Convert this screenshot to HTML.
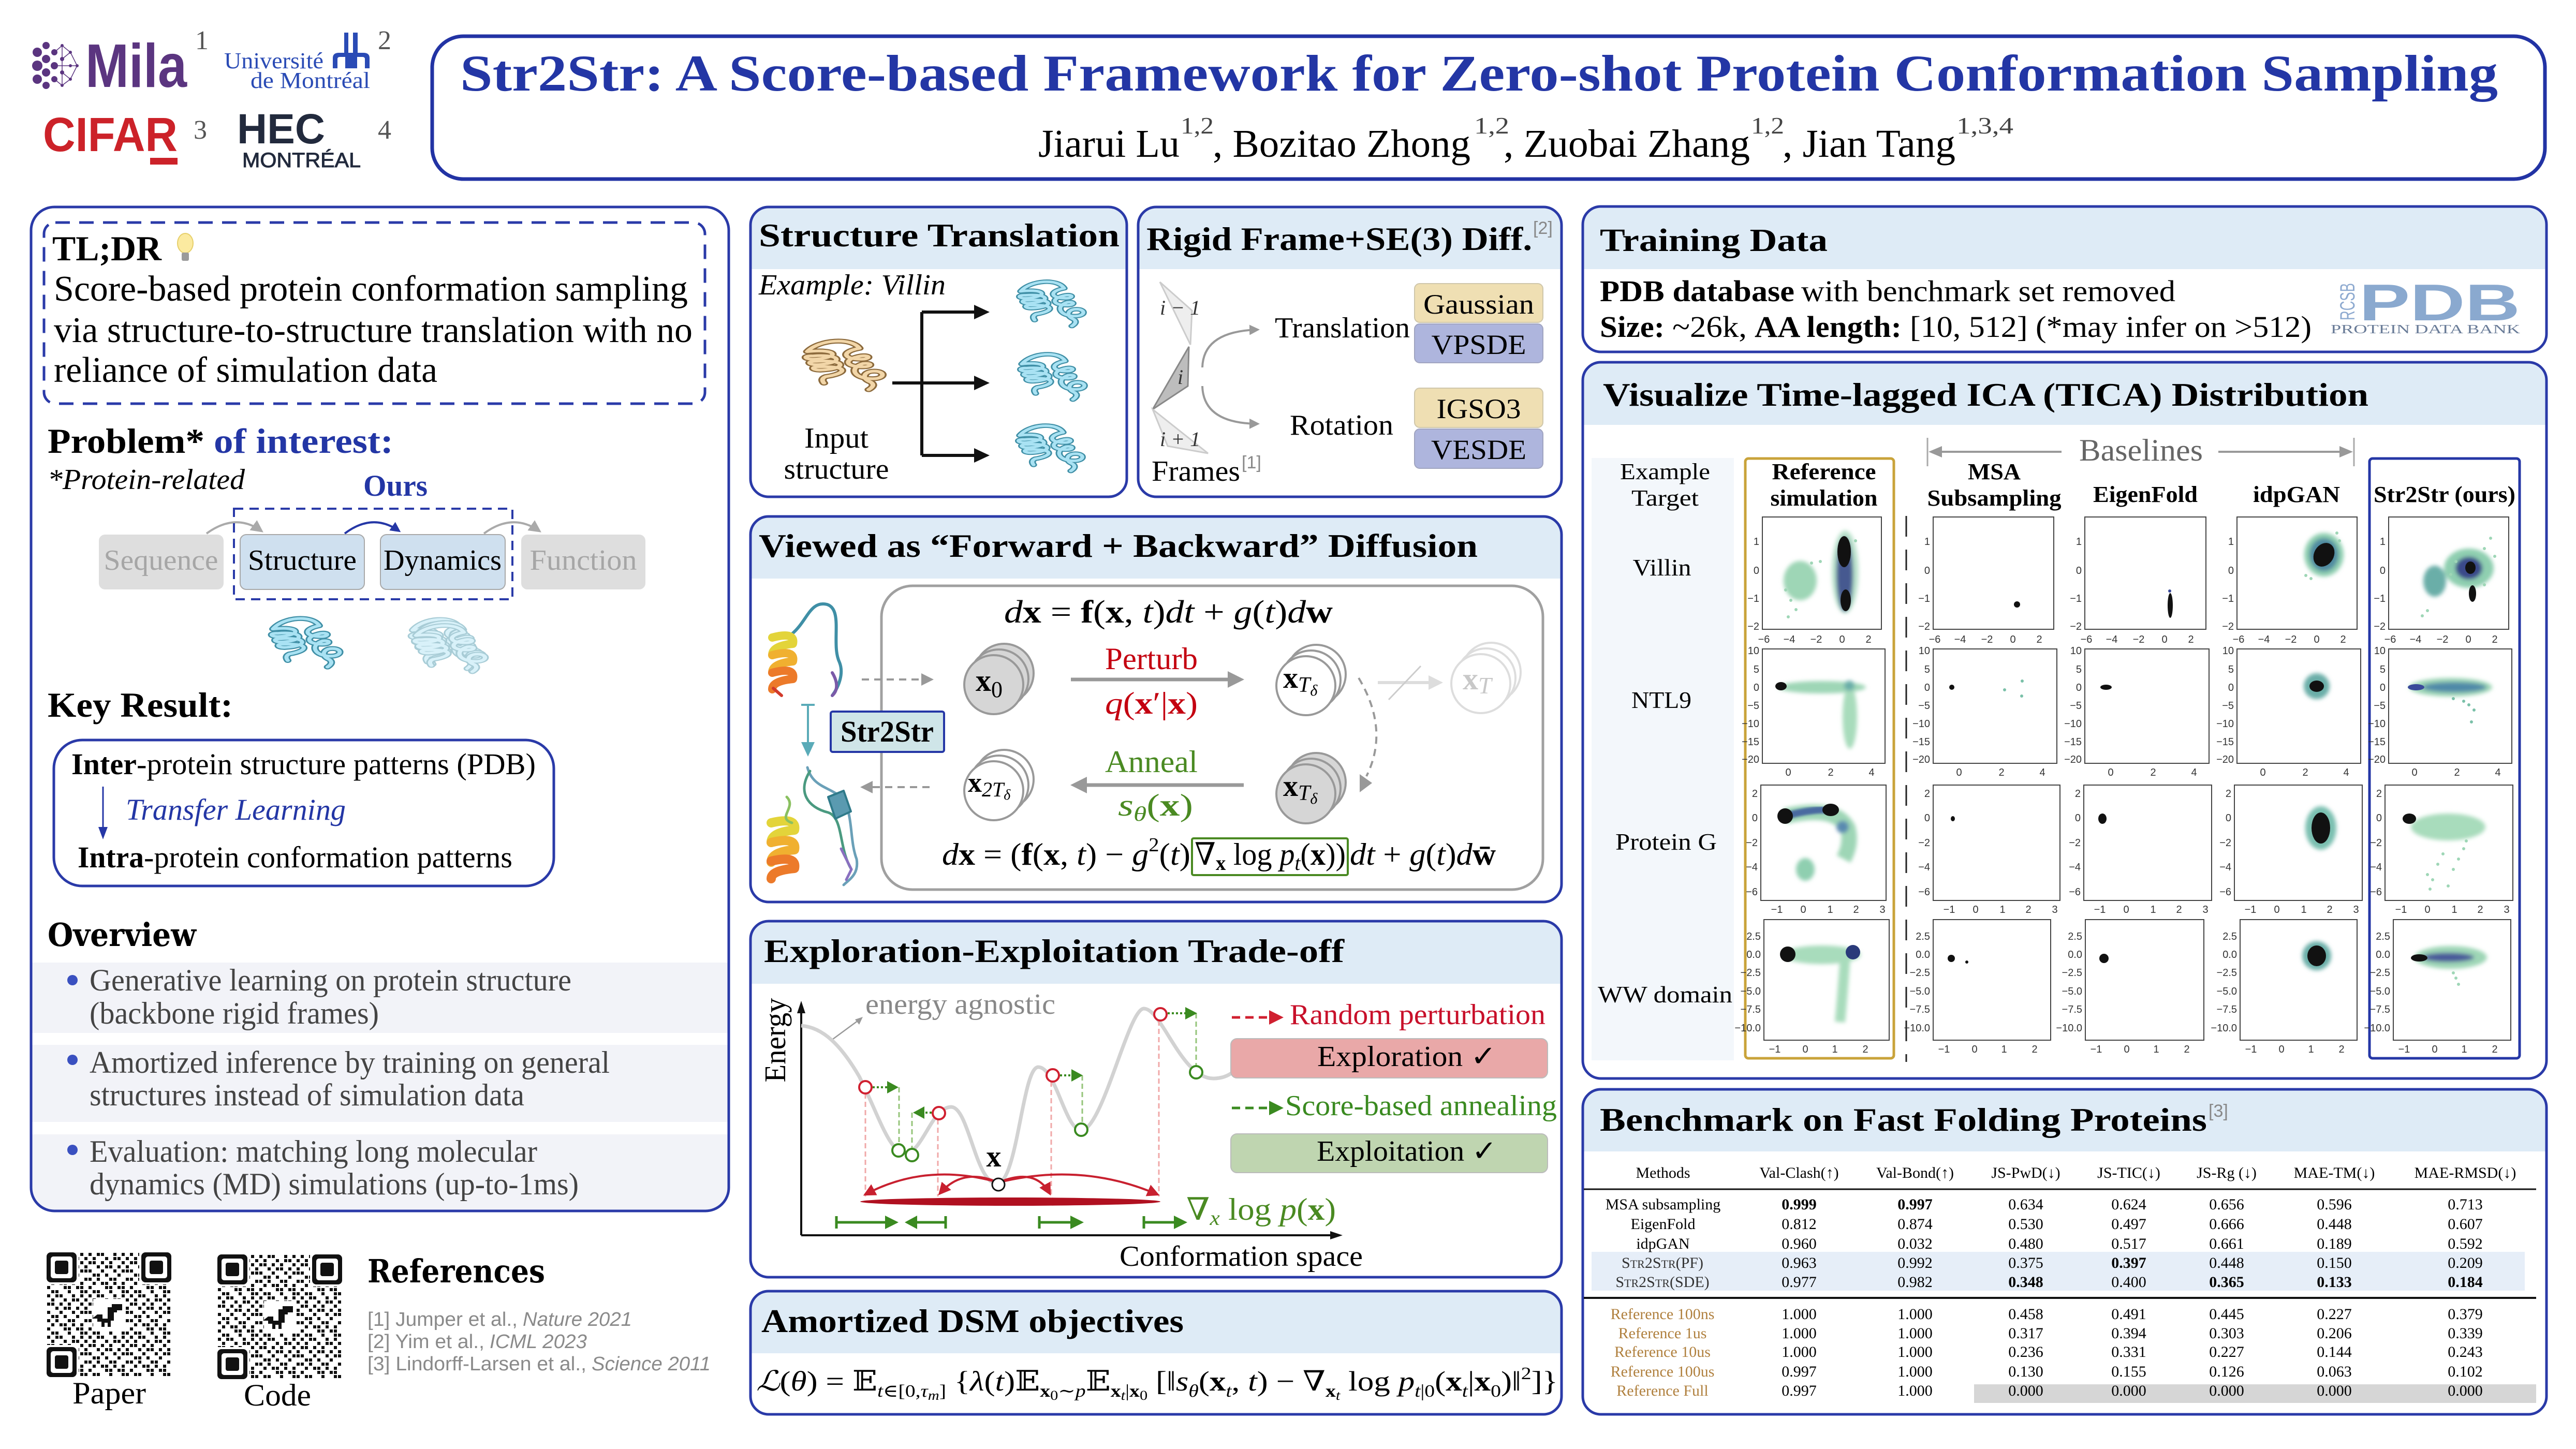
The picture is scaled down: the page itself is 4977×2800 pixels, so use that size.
<!DOCTYPE html>
<html><head><meta charset="utf-8">
<style>
html,body{margin:0;padding:0;background:#fff;}
svg{display:block;}
.t{font-family:"Liberation Serif","DejaVu Serif",serif;}
.sa{font-family:"Liberation Sans","DejaVu Sans",sans-serif;}
.b{font-weight:bold;}
.it{font-style:italic;}
</style></head>
<body>
<svg xmlns="http://www.w3.org/2000/svg" width="4977" height="2800" viewBox="0 0 4977 2800" class="t" font-family="Liberation Serif, DejaVu Serif, serif">
<defs>
  <marker id="mg" viewBox="0 0 10 10" refX="8" refY="5" markerWidth="5" markerHeight="5" orient="auto"><path d="M0,0 L10,5 L0,10z" fill="#999"/></marker>
  <marker id="mgl" viewBox="0 0 10 10" refX="8" refY="5" markerWidth="6" markerHeight="6" orient="auto"><path d="M0,0 L10,5 L0,10z" fill="#aaa"/></marker>
  <marker id="mb" viewBox="0 0 10 10" refX="8" refY="5" markerWidth="5" markerHeight="5" orient="auto"><path d="M0,0 L10,5 L0,10z" fill="#2537a6"/></marker>
  <marker id="mr" viewBox="0 0 10 10" refX="8" refY="5" markerWidth="6" markerHeight="6" orient="auto"><path d="M0,0 L10,5 L0,10z" fill="#c8202f"/></marker>
  <filter id="bl" x="-50%" y="-50%" width="200%" height="200%"><feGaussianBlur stdDeviation="4"/></filter>
  <filter id="bl2" x="-50%" y="-50%" width="200%" height="200%"><feGaussianBlur stdDeviation="2"/></filter>
  <pattern id="qr1" patternUnits="userSpaceOnUse" x="90" y="2420" width="80" height="80">
    <path fill="#111" d="M1,1h6v6h-6z M17,1h6v6h-6z M25,1h6v6h-6z M49,1h6v6h-6z M65,1h6v6h-6z M9,9h6v6h-6z M33,9h6v6h-6z M49,9h6v6h-6z M57,9h6v6h-6z M73,9h6v6h-6z M1,17h6v6h-6z M9,17h6v6h-6z M25,17h6v6h-6z M41,17h6v6h-6z M65,17h6v6h-6z M17,25h6v6h-6z M33,25h6v6h-6z M41,25h6v6h-6z M57,25h6v6h-6z M73,25h6v6h-6z M1,33h6v6h-6z M25,33h6v6h-6z M49,33h6v6h-6z M65,33h6v6h-6z M73,33h6v6h-6z M9,41h6v6h-6z M17,41h6v6h-6z M33,41h6v6h-6z M57,41h6v6h-6z M1,49h6v6h-6z M17,49h6v6h-6z M41,49h6v6h-6z M49,49h6v6h-6z M73,49h6v6h-6z M9,57h6v6h-6z M25,57h6v6h-6z M33,57h6v6h-6z M49,57h6v6h-6z M65,57h6v6h-6z M1,65h6v6h-6z M33,65h6v6h-6z M41,65h6v6h-6z M57,65h6v6h-6z M65,65h6v6h-6z M9,73h6v6h-6z M17,73h6v6h-6z M41,73h6v6h-6z M65,73h6v6h-6z M73,73h6v6h-6z"/>
  </pattern>
  <pattern id="qr2" patternUnits="userSpaceOnUse" x="420" y="2424" width="80" height="80">
    <path fill="#111" d="M1,1h6v6h-6z M17,1h6v6h-6z M25,1h6v6h-6z M49,1h6v6h-6z M65,1h6v6h-6z M9,9h6v6h-6z M33,9h6v6h-6z M49,9h6v6h-6z M57,9h6v6h-6z M73,9h6v6h-6z M1,17h6v6h-6z M9,17h6v6h-6z M25,17h6v6h-6z M41,17h6v6h-6z M65,17h6v6h-6z M17,25h6v6h-6z M33,25h6v6h-6z M41,25h6v6h-6z M57,25h6v6h-6z M73,25h6v6h-6z M1,33h6v6h-6z M25,33h6v6h-6z M49,33h6v6h-6z M65,33h6v6h-6z M73,33h6v6h-6z M9,41h6v6h-6z M17,41h6v6h-6z M33,41h6v6h-6z M57,41h6v6h-6z M1,49h6v6h-6z M17,49h6v6h-6z M41,49h6v6h-6z M49,49h6v6h-6z M73,49h6v6h-6z M9,57h6v6h-6z M25,57h6v6h-6z M33,57h6v6h-6z M49,57h6v6h-6z M65,57h6v6h-6z M1,65h6v6h-6z M33,65h6v6h-6z M41,65h6v6h-6z M57,65h6v6h-6z M65,65h6v6h-6z M9,73h6v6h-6z M17,73h6v6h-6z M41,73h6v6h-6z M65,73h6v6h-6z M73,73h6v6h-6z"/>
  </pattern>
  <path id="protPath" d="M12,28 C25,5 60,2 68,22 M12,28 c34,-6 36,12 6,14 c-10,0 -10,-7 0,-6 c32,-4 34,14 4,16 c-10,0 -10,-7 0,-6 c32,-4 34,14 4,16 c-10,0 -10,-7 0,-6 c30,-2 30,12 6,18 q-6,4 -2,12 M68,22 c-20,6 -18,20 2,20 c10,0 10,-8 0,-6 c-20,6 -18,20 2,20 c10,0 10,-8 0,-6 c-16,8 -10,28 10,28 c14,0 14,-14 2,-14 c-12,0 -14,14 -4,20 q6,6 -2,14"/>
  <g id="protC">
    <use href="#protPath" fill="none" stroke="#3f8fa6" stroke-width="9" stroke-linecap="round" stroke-linejoin="round"/>
    <use href="#protPath" fill="none" stroke="#a9e2f3" stroke-width="5" stroke-linecap="round" stroke-linejoin="round"/>
  </g>
  <g id="protT">
    <use href="#protPath" fill="none" stroke="#8c6a3c" stroke-width="9" stroke-linecap="round" stroke-linejoin="round"/>
    <use href="#protPath" fill="none" stroke="#f2d6a8" stroke-width="5" stroke-linecap="round" stroke-linejoin="round"/>
  </g>
</defs>

<rect width="4977" height="2800" fill="#fff"/>

<!-- ============ HEADER LOGOS ============ -->
<g fill="#5b3580">
  <circle cx="72" cy="101" r="9"/><circle cx="72" cy="127" r="10"/><circle cx="72" cy="153" r="9"/>
  <circle cx="89" cy="88" r="7"/><circle cx="89" cy="114" r="8"/><circle cx="89" cy="140" r="8"/><circle cx="89" cy="165" r="7"/>
  <circle cx="105" cy="101" r="6"/><circle cx="105" cy="127" r="7"/><circle cx="105" cy="153" r="6"/>
  <circle cx="120" cy="88" r="3"/><circle cx="120" cy="114" r="4"/><circle cx="120" cy="140" r="4"/><circle cx="120" cy="165" r="3"/>
  <circle cx="136" cy="101" r="3"/><circle cx="136" cy="153" r="3"/><circle cx="149" cy="127" r="3"/><circle cx="136" cy="127" r="3"/>
</g>
<g stroke="#5b3580" stroke-width="1.5" fill="none">
  <path d="M105,101 L120,88 L136,101 L149,127 L136,153 L120,165 L105,153 M120,114 L136,101 M120,140 L136,153 M105,127 H149 M120,114 L120,140 M120,88 L120,114 M120,140 L120,165"/>
</g>
<text class="sa b" x="165" y="168" font-size="119" fill="#5b3580" textLength="196" lengthAdjust="spacingAndGlyphs">Mila</text>
<text x="377" y="95" font-size="52" fill="#555">1</text>
<text x="433" y="132" font-size="44" fill="#2a4bb5" textLength="192" lengthAdjust="spacingAndGlyphs">Université</text>
<text x="484" y="170" font-size="44" fill="#2a4bb5" textLength="231" lengthAdjust="spacingAndGlyphs">de Montréal</text>
<g fill="#2a4bb5">
  <rect x="665" y="63" width="8" height="42"/><rect x="682" y="63" width="9" height="42"/>
  <path d="M643,132 V112 Q643,102 655,102 H702 Q714,102 714,112 V132 H705 V114 Q705,110 700,110 H690 V132 H667 V110 H657 Q652,110 652,114 V132 Z"/>
</g>
<text x="730" y="95" font-size="52" fill="#555">2</text>
<text class="sa b" x="83" y="292" font-size="93" fill="#cc2229" textLength="260" lengthAdjust="spacingAndGlyphs">CIFAR</text>
<rect x="290" y="305" width="53" height="13" fill="#cc2229"/>
<text x="374" y="268" font-size="52" fill="#555">3</text>
<text class="sa b" x="458" y="277" font-size="82" fill="#222a3d" textLength="170" lengthAdjust="spacingAndGlyphs">HEC</text>
<text class="sa" x="468" y="323" font-size="40" fill="#222a3d" textLength="229" lengthAdjust="spacingAndGlyphs" stroke="#222a3d" stroke-width="1">MONTRÉAL</text>
<text x="730" y="268" font-size="52" fill="#555">4</text>

<!-- ============ HEADER BOX ============ -->
<rect x="835" y="70" width="4082" height="276" rx="60" fill="#fff" stroke="#2233a4" stroke-width="7"/>
<text class="b" x="889" y="175" font-size="100" fill="#2336a5" textLength="3937" lengthAdjust="spacingAndGlyphs">Str2Str: A Score-based Framework for Zero-shot Protein Conformation Sampling</text>
<text x="2006" y="303" font-size="76" textLength="273" lengthAdjust="spacingAndGlyphs">Jiarui Lu</text>
<text x="2281" y="258" font-size="46" fill="#444" textLength="64" lengthAdjust="spacingAndGlyphs">1,2</text>
<text x="2343" y="303" font-size="76" textLength="498" lengthAdjust="spacingAndGlyphs">, Bozitao Zhong</text>
<text x="2848" y="258" font-size="46" fill="#444" textLength="68" lengthAdjust="spacingAndGlyphs">1,2</text>
<text x="2905" y="303" font-size="76" textLength="476" lengthAdjust="spacingAndGlyphs">, Zuobai Zhang</text>
<text x="3383" y="258" font-size="46" fill="#444" textLength="64" lengthAdjust="spacingAndGlyphs">1,2</text>
<text x="3444" y="303" font-size="76" textLength="334" lengthAdjust="spacingAndGlyphs">, Jian Tang</text>
<text x="3780" y="258" font-size="46" fill="#444" textLength="110" lengthAdjust="spacingAndGlyphs">1,3,4</text>

<!-- ============ LEFT PANEL ============ -->
<rect x="60" y="400" width="1348" height="1940" rx="45" fill="#fff"/>
<rect x="62" y="1860" width="1344" height="136" fill="#f2f3f8"/>
<rect x="62" y="2019" width="1344" height="149" fill="#f2f3f8"/>
<path d="M62,2192 H1406 V2295 Q1406,2338 1363,2338 H105 Q62,2338 62,2295 Z" fill="#f2f3f8"/>
<rect x="60" y="400" width="1348" height="1940" rx="45" fill="none" stroke="#2a3aa8" stroke-width="5"/>

<rect x="85" y="430" width="1277" height="350" rx="22" fill="none" stroke="#2a3aa8" stroke-width="5" stroke-dasharray="28 18"/>
<text class="b" x="101" y="503" font-size="68" textLength="211" lengthAdjust="spacingAndGlyphs">TL;DR</text>
<ellipse cx="358" cy="470" rx="15" ry="19" fill="#fbeaa0" stroke="#e6cf6a" stroke-width="2"/>
<rect x="351" y="488" width="14" height="16" rx="3" fill="#9a9a9a"/>
<text x="104" y="581" font-size="70" textLength="1225" lengthAdjust="spacingAndGlyphs">Score-based protein conformation sampling</text>
<text x="104" y="661" font-size="70" textLength="1234" lengthAdjust="spacingAndGlyphs">via structure-to-structure translation with no</text>
<text x="104" y="738" font-size="70" textLength="741" lengthAdjust="spacingAndGlyphs">reliance of simulation data</text>

<text class="b" x="92" y="875" font-size="68" textLength="303" lengthAdjust="spacingAndGlyphs">Problem*</text>
<text class="b" x="413" y="875" font-size="68" fill="#2336a5" textLength="347" lengthAdjust="spacingAndGlyphs">of interest:</text>
<text class="it" x="92" y="945" font-size="56" textLength="381" lengthAdjust="spacingAndGlyphs">*Protein-related</text>
<text class="b" x="702" y="958" font-size="58" fill="#2336a5" textLength="124" lengthAdjust="spacingAndGlyphs">Ours</text>

<path d="M399,1031 Q455,990 505,1026" fill="none" stroke="#aaa" stroke-width="4" marker-end="url(#mgl)"/>
<path d="M666,1031 Q720,990 771,1026" fill="none" stroke="#2537a6" stroke-width="4" marker-end="url(#mb)"/>
<path d="M935,1031 Q990,990 1042,1026" fill="none" stroke="#aaa" stroke-width="4" marker-end="url(#mgl)"/>
<rect x="191" y="1033" width="241" height="106" rx="12" fill="#dedede"/>
<rect x="464" y="1033" width="240" height="106" rx="12" fill="#cfe0ef" stroke="#a8a8a8" stroke-width="2"/>
<rect x="735" y="1033" width="241" height="106" rx="12" fill="#cfe0ef" stroke="#a8a8a8" stroke-width="2"/>
<rect x="1007" y="1033" width="240" height="106" rx="12" fill="#dedede"/>
<rect x="452" y="983" width="538" height="175" fill="none" stroke="#2a3aa8" stroke-width="4" stroke-dasharray="18 12"/>
<text x="311" y="1101" font-size="56" fill="#a6a6a6" text-anchor="middle" textLength="221" lengthAdjust="spacingAndGlyphs">Sequence</text>
<text x="584" y="1101" font-size="56" text-anchor="middle" textLength="210" lengthAdjust="spacingAndGlyphs">Structure</text>
<text x="855" y="1101" font-size="56" text-anchor="middle" textLength="228" lengthAdjust="spacingAndGlyphs">Dynamics</text>
<text x="1127" y="1101" font-size="56" fill="#a6a6a6" text-anchor="middle" textLength="207" lengthAdjust="spacingAndGlyphs">Function</text>

<use href="#protC" transform="translate(508,1186) scale(1.6,1.05)"/>
<g opacity="0.45">
  <use href="#protC" transform="translate(778,1188) scale(1.6,1.06)"/>
  <use href="#protC" transform="translate(790,1194) scale(1.55,1.04)"/>
  <use href="#protC" transform="translate(784,1200) scale(1.65,1.0)"/>
</g>

<text class="b" x="92" y="1385" font-size="68" textLength="358" lengthAdjust="spacingAndGlyphs">Key Result:</text>
<rect x="104" y="1430" width="966" height="282" rx="55" fill="none" stroke="#2a3aa8" stroke-width="5"/>
<text class="b" x="138" y="1496" font-size="58" textLength="126" lengthAdjust="spacingAndGlyphs">Inter</text>
<text x="264" y="1496" font-size="58" textLength="771" lengthAdjust="spacingAndGlyphs">-protein structure patterns (PDB)</text>
<line x1="199" y1="1520" x2="199" y2="1600" stroke="#2537a6" stroke-width="3"/>
<path d="M199,1622 L190,1598 L208,1598 Z" fill="#2537a6"/>
<text class="it" x="243" y="1584" font-size="58" fill="#2336a5" textLength="425" lengthAdjust="spacingAndGlyphs">Transfer Learning</text>
<text class="b" x="150" y="1676" font-size="58" textLength="128" lengthAdjust="spacingAndGlyphs">Intra</text>
<text x="278" y="1676" font-size="58" textLength="712" lengthAdjust="spacingAndGlyphs">-protein conformation patterns</text>

<text class="b" x="92" y="1828" font-size="62" textLength="287" lengthAdjust="spacingAndGlyphs" font-family="DejaVu Serif, serif">Overview</text>
<circle cx="140" cy="1894" r="10" fill="#3a50c0"/>
<circle cx="140" cy="2048" r="10" fill="#3a50c0"/>
<circle cx="140" cy="2222" r="10" fill="#3a50c0"/>
<g fill="#444" font-size="60">
<text x="173" y="1914" textLength="931" lengthAdjust="spacingAndGlyphs">Generative learning on protein structure</text>
<text x="173" y="1978" textLength="559" lengthAdjust="spacingAndGlyphs">(backbone rigid frames)</text>
<text x="173" y="2073" textLength="1005" lengthAdjust="spacingAndGlyphs">Amortized inference by training on general</text>
<text x="173" y="2136" textLength="840" lengthAdjust="spacingAndGlyphs">structures instead of simulation data</text>
<text x="173" y="2245" textLength="865" lengthAdjust="spacingAndGlyphs">Evaluation: matching long molecular</text>
<text x="173" y="2308" textLength="945" lengthAdjust="spacingAndGlyphs">dynamics (MD) simulations (up-to-1ms)</text>
</g>

<!-- QR codes -->
<rect x="90" y="2420" width="241" height="241" fill="url(#qr1)"/>
<g>
  <rect x="86" y="2416" width="66" height="66" fill="#fff"/><rect x="90" y="2420" width="58" height="58" rx="8" fill="#111"/><rect x="98" y="2428" width="42" height="42" rx="5" fill="#fff"/><rect x="106" y="2436" width="26" height="26" rx="4" fill="#111"/>
  <rect x="269" y="2416" width="66" height="66" fill="#fff"/><rect x="273" y="2420" width="58" height="58" rx="8" fill="#111"/><rect x="281" y="2428" width="42" height="42" rx="5" fill="#fff"/><rect x="289" y="2436" width="26" height="26" rx="4" fill="#111"/>
  <rect x="86" y="2599" width="66" height="66" fill="#fff"/><rect x="90" y="2603" width="58" height="58" rx="8" fill="#111"/><rect x="98" y="2611" width="42" height="42" rx="5" fill="#fff"/><rect x="106" y="2619" width="26" height="26" rx="4" fill="#111"/>
  <rect x="180" y="2510" width="62" height="62" fill="#fff"/>
  <path d="M188,2540 h10 v8 h10 v-22 h8 v-6 h20 v12 h-10 v4 h-6 v16 h-6 v12 h-6 v-8 h-6 v8 h-6 v-10 h-8 v-6 h-10 z" fill="#111"/>
</g>
<rect x="420" y="2424" width="241" height="241" fill="url(#qr2)"/>
<g>
  <rect x="416" y="2420" width="66" height="66" fill="#fff"/><rect x="420" y="2424" width="58" height="58" rx="8" fill="#111"/><rect x="428" y="2432" width="42" height="42" rx="5" fill="#fff"/><rect x="436" y="2440" width="26" height="26" rx="4" fill="#111"/>
  <rect x="599" y="2420" width="66" height="66" fill="#fff"/><rect x="603" y="2424" width="58" height="58" rx="8" fill="#111"/><rect x="611" y="2432" width="42" height="42" rx="5" fill="#fff"/><rect x="619" y="2440" width="26" height="26" rx="4" fill="#111"/>
  <rect x="416" y="2603" width="66" height="66" fill="#fff"/><rect x="420" y="2607" width="58" height="58" rx="8" fill="#111"/><rect x="428" y="2615" width="42" height="42" rx="5" fill="#fff"/><rect x="436" y="2623" width="26" height="26" rx="4" fill="#111"/>
  <rect x="510" y="2514" width="62" height="62" fill="#fff"/>
  <path d="M518,2544 h10 v8 h10 v-22 h8 v-6 h20 v12 h-10 v4 h-6 v16 h-6 v12 h-6 v-8 h-6 v8 h-6 v-10 h-8 v-6 h-10 z" fill="#111"/>
</g>
<text x="140" y="2712" font-size="60" textLength="142" lengthAdjust="spacingAndGlyphs">Paper</text>
<text x="471" y="2716" font-size="60" textLength="130" lengthAdjust="spacingAndGlyphs">Code</text>
<text class="b" x="710" y="2478" font-size="62" textLength="343" lengthAdjust="spacingAndGlyphs" font-family="DejaVu Serif, serif">References</text>
<g class="sa" font-size="38" fill="#8a8a8a">
<text x="710" y="2562" textLength="290" lengthAdjust="spacingAndGlyphs">[1] Jumper et al.,</text>
<text class="it" x="1010" y="2562" textLength="211" lengthAdjust="spacingAndGlyphs">Nature 2021</text>
<text x="710" y="2605" textLength="226" lengthAdjust="spacingAndGlyphs">[2] Yim et al.,</text>
<text class="it" x="946" y="2605" textLength="188" lengthAdjust="spacingAndGlyphs">ICML 2023</text>
<text x="710" y="2648" textLength="423" lengthAdjust="spacingAndGlyphs">[3] Lindorff-Larsen et al.,</text>
<text class="it" x="1143" y="2648" textLength="230" lengthAdjust="spacingAndGlyphs">Science 2011</text>
</g>

<!-- ============ MIDDLE PANELS ============ -->
<!-- Structure translation -->
<rect x="1450" y="400" width="727" height="560" rx="35" fill="#fff"/>
<path d="M1450,520 V435 Q1450,400 1485,400 H2142 Q2177,400 2177,435 V520 Z" fill="#deebf6"/>
<rect x="1450" y="400" width="727" height="560" rx="35" fill="none" stroke="#2a3aa8" stroke-width="5"/>
<text class="b" x="1466" y="476" font-size="64" textLength="697" lengthAdjust="spacingAndGlyphs">Structure Translation</text>
<text class="it" x="1466" y="569" font-size="56" textLength="361" lengthAdjust="spacingAndGlyphs">Example: Villin</text>
<use href="#protT" transform="translate(1538,650) scale(1.8,1.05)"/>
<text x="1616" y="865" font-size="56" text-anchor="middle" textLength="124" lengthAdjust="spacingAndGlyphs">Input</text>
<text x="1616" y="925" font-size="56" text-anchor="middle" textLength="203" lengthAdjust="spacingAndGlyphs">structure</text>
<g stroke="#111" stroke-width="6" fill="none">
  <path d="M1724,740 H1886 M1781,603 V880 M1781,603 H1886 M1781,880 H1886"/>
</g>
<g fill="#111">
  <path d="M1912,603 L1882,589 L1882,617 Z"/><path d="M1912,740 L1882,726 L1882,754 Z"/><path d="M1912,880 L1882,866 L1882,894 Z"/>
</g>
<use href="#protC" transform="translate(1954,536) scale(1.5,0.96)"/>
<use href="#protC" transform="translate(1956,676) scale(1.5,0.98)"/>
<use href="#protC" transform="translate(1952,814) scale(1.5,0.98)"/>

<!-- Rigid frame -->
<rect x="2199" y="400" width="818" height="560" rx="35" fill="#fff"/>
<path d="M2199,520 V435 Q2199,400 2234,400 H2982 Q3017,400 3017,435 V520 Z" fill="#deebf6"/>
<rect x="2199" y="400" width="818" height="560" rx="35" fill="none" stroke="#2a3aa8" stroke-width="5"/>
<text class="b" x="2215" y="483" font-size="64" textLength="745" lengthAdjust="spacingAndGlyphs">Rigid Frame+SE(3) Diff.</text>
<text class="sa" x="2962" y="452" font-size="34" fill="#888">[2]</text>
<polygon points="2241,545 2300,666 2303,600" fill="#eee" stroke="#ccc" stroke-width="3"/>
<polygon points="2297,670 2227,791 2295,746" fill="#bdbdbd" stroke="#888" stroke-width="3"/>
<polygon points="2227,791 2334,876 2256,862" fill="#eee" stroke="#ccc" stroke-width="3"/>
<text class="it" x="2241" y="608" font-size="40" fill="#333">i − 1</text>
<text class="it" x="2275" y="742" font-size="40" fill="#333">i</text>
<text class="it" x="2241" y="862" font-size="40" fill="#333">i + 1</text>
<text x="2225" y="929" font-size="56" textLength="171" lengthAdjust="spacingAndGlyphs">Frames</text>
<text class="sa" x="2399" y="905" font-size="34" fill="#888">[1]</text>
<path d="M2323,710 Q2325,640 2430,637" fill="none" stroke="#999" stroke-width="4" marker-end="url(#mg)"/>
<path d="M2323,746 Q2325,818 2430,819" fill="none" stroke="#999" stroke-width="4" marker-end="url(#mg)"/>
<text x="2463" y="652" font-size="56" textLength="261" lengthAdjust="spacingAndGlyphs">Translation</text>
<text x="2492" y="840" font-size="56" textLength="200" lengthAdjust="spacingAndGlyphs">Rotation</text>
<rect x="2733" y="548" width="248" height="75" rx="10" fill="#efdfb3" stroke="#cfc6aa" stroke-width="2"/>
<rect x="2733" y="626" width="248" height="75" rx="10" fill="#aeb5dd" stroke="#a0a4c0" stroke-width="2"/>
<rect x="2733" y="750" width="248" height="76" rx="10" fill="#efdfb3" stroke="#cfc6aa" stroke-width="2"/>
<rect x="2733" y="829" width="248" height="76" rx="10" fill="#aeb5dd" stroke="#a0a4c0" stroke-width="2"/>
<text x="2857" y="606" font-size="54" text-anchor="middle" textLength="214" lengthAdjust="spacingAndGlyphs">Gaussian</text>
<text x="2857" y="684" font-size="54" text-anchor="middle" textLength="183" lengthAdjust="spacingAndGlyphs">VPSDE</text>
<text x="2857" y="808" font-size="54" text-anchor="middle" textLength="163" lengthAdjust="spacingAndGlyphs">IGSO3</text>
<text x="2857" y="887" font-size="54" text-anchor="middle" textLength="184" lengthAdjust="spacingAndGlyphs">VESDE</text>

<!-- Viewed as forward+backward -->
<rect x="1450" y="998" width="1567" height="745" rx="35" fill="#fff"/>
<path d="M1450,1118 V1033 Q1450,998 1485,998 H2982 Q3017,998 3017,1033 V1118 Z" fill="#deebf6"/>
<rect x="1450" y="998" width="1567" height="745" rx="35" fill="none" stroke="#2a3aa8" stroke-width="5"/>
<text class="b" x="1466" y="1076" font-size="64" textLength="1389" lengthAdjust="spacingAndGlyphs">Viewed as “Forward + Backward” Diffusion</text>
<rect x="1703" y="1132" width="1278" height="587" rx="60" fill="none" stroke="#a0a0a0" stroke-width="5"/>
<text x="1940" y="1203" font-size="62" textLength="635" lengthAdjust="spacingAndGlyphs"><tspan class="it">d</tspan><tspan class="b">x</tspan> = <tspan class="b">f</tspan>(<tspan class="b">x</tspan>, <tspan class="it">t</tspan>)<tspan class="it">dt</tspan> + <tspan class="it">g</tspan>(<tspan class="it">t</tspan>)<tspan class="it">d</tspan><tspan class="b">w</tspan></text>

<!-- circles -->
<g stroke="#999" stroke-width="4">
  <circle cx="1940" cy="1301" r="57" fill="#d6d6d6"/><circle cx="1930" cy="1312" r="57" fill="#d6d6d6"/><circle cx="1920" cy="1323" r="57" fill="#d6d6d6"/>
  <circle cx="2543" cy="1303" r="57" fill="#fff"/><circle cx="2533" cy="1314" r="57" fill="#fff"/><circle cx="2523" cy="1325" r="57" fill="#fff"/>
  <circle cx="2543" cy="1512" r="57" fill="#d6d6d6"/><circle cx="2533" cy="1523" r="57" fill="#d6d6d6"/><circle cx="2523" cy="1534" r="57" fill="#d6d6d6"/>
  <circle cx="1940" cy="1506" r="57" fill="#fff"/><circle cx="1930" cy="1517" r="57" fill="#fff"/><circle cx="1920" cy="1528" r="57" fill="#fff"/>
</g>
<g stroke="#ddd" stroke-width="4" fill="none">
  <circle cx="2881" cy="1299" r="57"/><circle cx="2871" cy="1310" r="57"/><circle cx="2861" cy="1321" r="57" fill="#fff"/>
</g>
<text x="1885" y="1335" font-size="60"><tspan class="b">x</tspan><tspan font-size="44" dy="12">0</tspan></text>
<text x="2479" y="1329" font-size="58"><tspan class="b">x</tspan><tspan class="it" font-size="42" dy="8">T</tspan><tspan class="it" font-size="30" dy="7">δ</tspan></text>
<text x="2479" y="1538" font-size="58"><tspan class="b">x</tspan><tspan class="it" font-size="42" dy="8">T</tspan><tspan class="it" font-size="30" dy="7">δ</tspan></text>
<text x="1870" y="1530" font-size="54"><tspan class="b">x</tspan><tspan class="it" font-size="40" dy="9">2T</tspan><tspan class="it" font-size="28" dy="6">δ</tspan></text>
<text x="2826" y="1332" font-size="60" fill="#c8c8c8"><tspan class="b">x</tspan><tspan class="it" font-size="46" dy="8">T</tspan></text>

<text x="2135" y="1293" font-size="60" fill="#c40010" textLength="179" lengthAdjust="spacingAndGlyphs">Perturb</text>
<line x1="2069" y1="1313" x2="2376" y2="1313" stroke="#999" stroke-width="7"/>
<path d="M2404,1313 L2372,1297 L2372,1329 Z" fill="#999"/>
<text x="2135" y="1379" font-size="60" fill="#c40010" textLength="179" lengthAdjust="spacingAndGlyphs"><tspan class="it">q</tspan>(<tspan class="b">x</tspan>′|<tspan class="b">x</tspan>)</text>
<text x="2135" y="1492" font-size="60" fill="#4a8a22" textLength="179" lengthAdjust="spacingAndGlyphs">Anneal</text>
<line x1="2096" y1="1517" x2="2403" y2="1517" stroke="#999" stroke-width="7"/>
<path d="M2068,1517 L2100,1501 L2100,1533 Z" fill="#999"/>
<text x="2160" y="1576" font-size="60" fill="#4a8a22" textLength="145" lengthAdjust="spacingAndGlyphs"><tspan class="it">s</tspan><tspan class="it" font-size="40" dy="10">θ</tspan><tspan dy="-10">(</tspan><tspan class="b">x</tspan>)</text>
<path d="M2625,1310 Q2685,1410 2640,1500" fill="none" stroke="#999" stroke-width="4" stroke-dasharray="14 10"/>
<path d="M2651,1513 L2627,1496 L2627,1531 Z" fill="#999"/>
<line x1="2662" y1="1319" x2="2765" y2="1319" stroke="#ddd" stroke-width="6"/>
<path d="M2788,1319 L2760,1305 L2760,1333 Z" fill="#ddd"/>
<line x1="2683" y1="1352" x2="2745" y2="1287" stroke="#ccc" stroke-width="3"/>

<text x="1820" y="1671" font-size="60" textLength="480" lengthAdjust="spacingAndGlyphs"><tspan class="it">d</tspan><tspan class="b">x</tspan> = (<tspan class="b">f</tspan>(<tspan class="b">x</tspan>, <tspan class="it">t</tspan>) − <tspan class="it">g</tspan><tspan font-size="38" dy="-26">2</tspan><tspan dy="26">(</tspan><tspan class="it">t</tspan>)</text>
<rect x="2303" y="1620" width="301" height="71" rx="3" fill="none" stroke="#4a8a22" stroke-width="4"/>
<text x="2308" y="1671" font-size="60" textLength="292" lengthAdjust="spacingAndGlyphs">∇<tspan class="b" font-size="40" dy="10">x</tspan><tspan dy="-10"> log </tspan><tspan class="it">p</tspan><tspan class="it" font-size="40" dy="10">t</tspan><tspan dy="-10">(</tspan><tspan class="b">x</tspan>))</text>
<text x="2608" y="1671" font-size="60" textLength="282" lengthAdjust="spacingAndGlyphs"><tspan class="it">dt</tspan> + <tspan class="it">g</tspan>(<tspan class="it">t</tspan>)<tspan class="it">d</tspan><tspan class="b">w̄</tspan></text>

<!-- left proteins -->
<g fill="none" stroke-linecap="round" stroke-linejoin="round">
  <path d="M1530,1225 C1560,1200 1565,1160 1598,1168 C1630,1178 1605,1245 1622,1280 C1630,1300 1622,1325 1608,1344" stroke="#3f8fa6" stroke-width="6"/>
  <path d="M1608,1300 C1620,1320 1618,1335 1608,1344" stroke="#7a5aa8" stroke-width="6"/>
  <path d="M1492,1232 q45,-12 40,12 q-40,4 -40,22" stroke="#e3d43a" stroke-width="16"/>
  <path d="M1492,1266 q45,-12 40,12 q-40,4 -40,22" stroke="#f0b030" stroke-width="16"/>
  <path d="M1492,1300 q45,-12 40,12 q-40,4 -40,20" stroke="#ec7a2a" stroke-width="16"/>
  <path d="M1494,1330 L1510,1344" stroke="#d23a2a" stroke-width="6"/>
</g>
<line x1="1665" y1="1313" x2="1782" y2="1313" stroke="#999" stroke-width="4" stroke-dasharray="14 10"/>
<path d="M1804,1313 L1780,1301 L1780,1325 Z" fill="#999"/>
<line x1="1548" y1="1362" x2="1574" y2="1362" stroke="#5aabb8" stroke-width="4"/>
<line x1="1561" y1="1362" x2="1561" y2="1438" stroke="#5aabb8" stroke-width="4"/>
<path d="M1561,1462 L1548,1434 L1574,1434 Z" fill="#5aabb8"/>
<rect x="1605" y="1375" width="219" height="78" rx="4" fill="#cfe5e8" stroke="#2537a6" stroke-width="4"/>
<text class="b" x="1714" y="1433" font-size="58" text-anchor="middle" textLength="180" lengthAdjust="spacingAndGlyphs">Str2Str</text>
<g fill="none" stroke-linecap="round" stroke-linejoin="round">
  <path d="M1560,1483 C1570,1520 1600,1520 1625,1540 C1650,1570 1640,1620 1655,1660 C1660,1690 1640,1700 1630,1710" stroke="#6aa0b8" stroke-width="5"/>
  <path d="M1565,1490 C1540,1530 1560,1560 1600,1570 C1630,1580 1620,1640 1645,1680" stroke="#4a9a80" stroke-width="5"/>
  <path d="M1600,1540 l30,-12 l14,40 l-30,14 z" stroke="#2f7a8a" stroke-width="4" fill="#5a9ab0"/>
  <path d="M1490,1590 q50,-12 45,14 q-45,4 -45,24" stroke="#e3d43a" stroke-width="18"/>
  <path d="M1490,1628 q50,-12 45,14 q-45,4 -45,24" stroke="#f0b030" stroke-width="18"/>
  <path d="M1490,1664 q50,-12 45,14 q-45,4 -45,20" stroke="#ec7a2a" stroke-width="18"/>
  <path d="M1520,1540 C1540,1560 1500,1580 1530,1590" stroke="#8ac060" stroke-width="5"/>
  <path d="M1625,1640 l20,40 l-10,20" stroke="#8a70c0" stroke-width="5"/>
</g>
<line x1="1796" y1="1521" x2="1686" y2="1521" stroke="#999" stroke-width="4" stroke-dasharray="14 10"/>
<path d="M1662,1521 L1686,1509 L1686,1533 Z" fill="#999"/>

<!-- Exploration -->
<rect x="1450" y="1780" width="1567" height="688" rx="35" fill="#fff"/>
<path d="M1450,1901 V1815 Q1450,1780 1485,1780 H2982 Q3017,1780 3017,1815 V1901 Z" fill="#deebf6"/>
<rect x="1450" y="1780" width="1567" height="688" rx="35" fill="none" stroke="#2a3aa8" stroke-width="5"/>
<text class="b" x="1476" y="1859" font-size="64" textLength="1121" lengthAdjust="spacingAndGlyphs">Exploration-Exploitation Trade-off</text>
<line x1="1548" y1="2387" x2="1548" y2="1955" stroke="#111" stroke-width="4"/>
<path d="M1548,1934 L1540,1958 L1556,1958 Z" fill="#111"/>
<line x1="1548" y1="2387" x2="2572" y2="2387" stroke="#111" stroke-width="4"/>
<path d="M2594,2387 L2570,2379 L2570,2395 Z" fill="#111"/>
<text transform="translate(1517,2010) rotate(-90)" font-size="58" text-anchor="middle" textLength="163" lengthAdjust="spacingAndGlyphs">Energy</text>
<text x="2163" y="2446" font-size="56" textLength="470" lengthAdjust="spacingAndGlyphs">Conformation space</text>
<text x="1672" y="1959" font-size="56" fill="#888" textLength="367" lengthAdjust="spacingAndGlyphs">energy agnostic</text>
<line x1="1605" y1="2011" x2="1658" y2="1972" stroke="#999" stroke-width="2.5"/>
<path d="M1667,1965 L1652,1970 L1660,1980 Z" fill="#999"/>
<path d="M1548,1982 C1590,1985 1625,2020 1660,2080 C1700,2160 1718,2228 1750,2228 C1782,2228 1800,2139 1838,2139 C1872,2140 1885,2287 1926,2287 C1966,2287 1975,2062 2006,2062 C2040,2062 2058,2184 2089,2184 C2130,2184 2180,1949 2210,1949 C2245,1949 2282,2084 2344,2084 C2378,2084 2395,2062 2401,2045" fill="none" stroke="#d2d2d2" stroke-width="7"/>
<g stroke="#f0a8a8" stroke-width="3" stroke-dasharray="10 6">
  <line x1="1672" y1="2113" x2="1672" y2="2312"/><line x1="1812" y1="2163" x2="1812" y2="2312"/><line x1="2031" y1="2090" x2="2031" y2="2312"/><line x1="2239" y1="1972" x2="2239" y2="2312"/>
</g>
<g stroke="#95c47a" stroke-width="3" stroke-dasharray="10 6">
  <line x1="1737" y1="2101" x2="1737" y2="2211"/><line x1="1762" y1="2150" x2="1762" y2="2220"/><line x1="2091" y1="2078" x2="2091" y2="2171"/><line x1="2311" y1="1958" x2="2311" y2="2060"/>
</g>
<ellipse cx="1952" cy="2322" rx="290" ry="8" fill="#b01020"/>
<g fill="none" stroke="#c8202f" stroke-width="4">
  <path d="M1929,2285 Q1790,2245 1672,2308" marker-end="url(#mr)"/>
  <path d="M1929,2285 Q1860,2255 1816,2306" marker-end="url(#mr)"/>
  <path d="M1929,2285 Q2000,2255 2028,2306" marker-end="url(#mr)"/>
  <path d="M1929,2285 Q2090,2245 2236,2308" marker-end="url(#mr)"/>
</g>
<g fill="#fff" stroke-width="4">
  <circle cx="1672" cy="2101" r="12" stroke="#d02030"/><circle cx="1814" cy="2151" r="12" stroke="#d02030"/><circle cx="2034" cy="2078" r="12" stroke="#d02030"/><circle cx="2242" cy="1960" r="12" stroke="#d02030"/>
  <circle cx="1736" cy="2223" r="12" stroke="#3a8a20"/><circle cx="1762" cy="2232" r="12" stroke="#3a8a20"/><circle cx="2089" cy="2183" r="12" stroke="#3a8a20"/><circle cx="2311" cy="2072" r="12" stroke="#3a8a20"/>
  <circle cx="1929" cy="2289" r="12" stroke="#111" stroke-width="3"/>
</g>
<g stroke="#3a8a20" stroke-width="4" stroke-dasharray="4 4">
  <line x1="1686" y1="2101" x2="1714" y2="2101"/><line x1="2048" y1="2078" x2="2070" y2="2078"/><line x1="2256" y1="1958" x2="2290" y2="1958"/><line x1="1800" y1="2150" x2="1786" y2="2150"/>
</g>
<g fill="#3a8a20">
  <path d="M1736,2101 L1714,2089 L1714,2113 Z"/><path d="M2092,2078 L2070,2066 L2070,2090 Z"/><path d="M2313,1958 L2290,1946 L2290,1970 Z"/><path d="M1764,2150 L1786,2138 L1786,2162 Z"/>
</g>
<text class="b" x="1920" y="2254" font-size="58" text-anchor="middle">x</text>
<g stroke="#3a8a20" stroke-width="5">
  <line x1="1616" y1="2350" x2="1616" y2="2374"/><line x1="1616" y1="2362" x2="1712" y2="2362"/>
  <line x1="1827" y1="2350" x2="1827" y2="2374"/><line x1="1827" y1="2362" x2="1770" y2="2362"/>
  <line x1="2008" y1="2350" x2="2008" y2="2374"/><line x1="2008" y1="2362" x2="2071" y2="2362"/>
  <line x1="2210" y1="2350" x2="2210" y2="2374"/><line x1="2210" y1="2362" x2="2270" y2="2362"/>
</g>
<g fill="#3a8a20">
  <path d="M1736,2362 L1710,2349 L1710,2375 Z"/><path d="M1748,2362 L1772,2349 L1772,2375 Z"/><path d="M2094,2362 L2068,2349 L2068,2375 Z"/><path d="M2294,2362 L2268,2349 L2268,2375 Z"/>
</g>
<text x="2292" y="2357" font-size="60" fill="#4a8a22" textLength="289" lengthAdjust="spacingAndGlyphs">∇<tspan class="it" font-size="40" dy="10">x</tspan><tspan dy="-10"> log </tspan><tspan class="it">p</tspan>(<tspan class="b">x</tspan>)</text>
<line x1="2380" y1="1966" x2="2452" y2="1966" stroke="#d02030" stroke-width="5" stroke-dasharray="16 10"/>
<path d="M2480,1966 L2452,1952 L2452,1980 Z" fill="#d02030"/>
<text x="2492" y="1979" font-size="56" fill="#c8102a" textLength="494" lengthAdjust="spacingAndGlyphs">Random perturbation</text>
<rect x="2378" y="2007" width="612" height="76" rx="12" fill="#e9a8a8" stroke="#bbb" stroke-width="2"/>
<text x="2718" y="2060" font-size="56" text-anchor="middle" textLength="346" lengthAdjust="spacingAndGlyphs">Exploration ✓</text>
<line x1="2380" y1="2141" x2="2452" y2="2141" stroke="#3a8a20" stroke-width="5" stroke-dasharray="16 10"/>
<path d="M2480,2141 L2452,2127 L2452,2155 Z" fill="#3a8a20"/>
<text x="2483" y="2155" font-size="56" fill="#3a8a20" textLength="525" lengthAdjust="spacingAndGlyphs">Score-based annealing</text>
<rect x="2378" y="2191" width="612" height="75" rx="12" fill="#bfd5b0" stroke="#bbb" stroke-width="2"/>
<text x="2718" y="2243" font-size="56" text-anchor="middle" textLength="348" lengthAdjust="spacingAndGlyphs">Exploitation ✓</text>

<!-- Amortized -->
<rect x="1450" y="2495" width="1567" height="238" rx="35" fill="#fff"/>
<path d="M1450,2615 V2530 Q1450,2495 1485,2495 H2982 Q3017,2495 3017,2530 V2615 Z" fill="#deebf6"/>
<rect x="1450" y="2495" width="1567" height="238" rx="35" fill="none" stroke="#2a3aa8" stroke-width="5"/>
<text class="b" x="1471" y="2574" font-size="64" textLength="816" lengthAdjust="spacingAndGlyphs">Amortized DSM objectives</text>
<text x="1461" y="2687" font-size="54" textLength="1549" lengthAdjust="spacingAndGlyphs"><tspan class="it">ℒ</tspan>(<tspan class="it">θ</tspan>) = 𝔼<tspan font-size="34" dy="12" class="it">t</tspan><tspan font-size="34">∈[0,</tspan><tspan font-size="34" class="it">τ</tspan><tspan font-size="26" dy="6" class="it">m</tspan><tspan font-size="34" dy="-6">]</tspan><tspan dy="-12"> {</tspan><tspan class="it">λ</tspan>(<tspan class="it">t</tspan>)𝔼<tspan font-size="34" dy="12" class="b">x</tspan><tspan font-size="26" dy="6">0</tspan><tspan font-size="34" dy="-6">∼</tspan><tspan font-size="34" class="it">p</tspan><tspan dy="-12">𝔼</tspan><tspan font-size="34" dy="12" class="b">x</tspan><tspan font-size="26" dy="6" class="it">t</tspan><tspan font-size="34" dy="-6">|</tspan><tspan font-size="34" class="b">x</tspan><tspan font-size="26" dy="6">0</tspan><tspan dy="-18"> [‖</tspan><tspan class="it">s</tspan><tspan font-size="34" dy="12" class="it">θ</tspan><tspan dy="-12">(</tspan><tspan class="b">x</tspan><tspan font-size="34" dy="12" class="it">t</tspan><tspan dy="-12">, </tspan><tspan class="it">t</tspan>) − ∇<tspan font-size="34" dy="12" class="b">x</tspan><tspan font-size="26" dy="6" class="it">t</tspan><tspan dy="-18"> log </tspan><tspan class="it">p</tspan><tspan font-size="34" dy="12" class="it">t</tspan><tspan font-size="34">|0</tspan><tspan dy="-12">(</tspan><tspan class="b">x</tspan><tspan font-size="34" dy="12" class="it">t</tspan><tspan dy="-12">|</tspan><tspan class="b">x</tspan><tspan font-size="34" dy="12">0</tspan><tspan dy="-12">)‖</tspan><tspan font-size="34" dy="-22">2</tspan><tspan dy="22">]}</tspan></text>

<!-- ============ RIGHT PANELS ============ -->
<!-- Training data -->
<rect x="3058" y="399" width="1862" height="281" rx="35" fill="#fff"/>
<path d="M3058,520 V434 Q3058,399 3093,399 H4885 Q4920,399 4920,434 V520 Z" fill="#deebf6"/>
<rect x="3058" y="399" width="1862" height="281" rx="35" fill="none" stroke="#2a3aa8" stroke-width="5"/>
<text class="b" x="3091" y="485" font-size="62" textLength="440" lengthAdjust="spacingAndGlyphs">Training Data</text>
<text class="b" x="3091" y="582" font-size="58" textLength="376" lengthAdjust="spacingAndGlyphs">PDB database</text>
<text x="3480" y="582" font-size="58" textLength="723" lengthAdjust="spacingAndGlyphs">with benchmark set removed</text>
<text class="b" x="3091" y="651" font-size="58" textLength="125" lengthAdjust="spacingAndGlyphs">Size:</text>
<text x="3231" y="651" font-size="58" textLength="144" lengthAdjust="spacingAndGlyphs">~26k,</text>
<text class="b" x="3390" y="651" font-size="58" textLength="284" lengthAdjust="spacingAndGlyphs">AA length:</text>
<text x="3690" y="651" font-size="58" textLength="776" lengthAdjust="spacingAndGlyphs">[10, 512] (*may infer on &gt;512)</text>
<text class="sa" transform="translate(4549,583) rotate(-90)" font-size="40" fill="#8eaad0" text-anchor="middle" textLength="72" lengthAdjust="spacingAndGlyphs">RCSB</text>
<text class="sa b" x="4558" y="619" font-size="100" fill="#8aa9cf" textLength="311" lengthAdjust="spacingAndGlyphs">PDB</text>
<text x="4503" y="644" font-size="24" fill="#6a7c98" textLength="366" lengthAdjust="spacingAndGlyphs">PROTEIN DATA BANK</text>

<!-- TICA -->
<rect x="3058" y="700" width="1862" height="1384" rx="35" fill="#fff"/>
<path d="M3058,821 V735 Q3058,700 3093,700 H4885 Q4920,700 4920,735 V821 Z" fill="#deebf6"/>
<rect x="3058" y="700" width="1862" height="1384" rx="35" fill="none" stroke="#2a3aa8" stroke-width="5"/>
<text class="b" x="3097" y="784" font-size="64" textLength="1479" lengthAdjust="spacingAndGlyphs">Visualize Time-lagged ICA (TICA) Distribution</text>
<rect x="3075" y="885" width="275" height="1164" fill="#f3f7fb"/>
<text x="4017" y="890" font-size="60" fill="#666" textLength="239" lengthAdjust="spacingAndGlyphs">Baselines</text>
<line x1="3740" y1="873" x2="3983" y2="873" stroke="#999" stroke-width="4"/>
<path d="M3726,873 L3752,862 L3752,884 Z" fill="#999"/>
<line x1="4286" y1="873" x2="4532" y2="873" stroke="#999" stroke-width="4"/>
<path d="M4546,873 L4520,862 L4520,884 Z" fill="#999"/>
<line x1="3724" y1="846" x2="3724" y2="901" stroke="#aaa" stroke-width="3"/>
<line x1="4548" y1="846" x2="4548" y2="901" stroke="#aaa" stroke-width="3"/>
<rect x="3372" y="886" width="287" height="1159" rx="6" fill="none" stroke="#c9a33a" stroke-width="5"/>
<rect x="4578" y="886" width="290" height="1159" rx="6" fill="none" stroke="#2537a6" stroke-width="5"/>
<line x1="3683" y1="997" x2="3683" y2="2052" stroke="#222" stroke-width="3" stroke-dasharray="40 25"/>
<g class="b" font-size="44" text-anchor="middle">
<text x="3217" y="926" font-weight="normal" textLength="174" lengthAdjust="spacingAndGlyphs">Example</text>
<text x="3217" y="977" font-weight="normal" textLength="130" lengthAdjust="spacingAndGlyphs">Target</text>
<text x="3524" y="926" textLength="201" lengthAdjust="spacingAndGlyphs">Reference</text>
<text x="3524" y="977" textLength="207" lengthAdjust="spacingAndGlyphs">simulation</text>
<text x="3853" y="926" textLength="102" lengthAdjust="spacingAndGlyphs">MSA</text>
<text x="3853" y="977" textLength="259" lengthAdjust="spacingAndGlyphs">Subsampling</text>
<text x="4145" y="970" textLength="202" lengthAdjust="spacingAndGlyphs">EigenFold</text>
<text x="4437" y="970" textLength="168" lengthAdjust="spacingAndGlyphs">idpGAN</text>
<text x="4723" y="970" textLength="274" lengthAdjust="spacingAndGlyphs">Str2Str (ours)</text>
</g>
<g font-size="46" text-anchor="middle">
<text x="3211" y="1112" textLength="113" lengthAdjust="spacingAndGlyphs">Villin</text>
<text x="3210" y="1368" textLength="116" lengthAdjust="spacingAndGlyphs">NTL9</text>
<text x="3219" y="1642" textLength="196" lengthAdjust="spacingAndGlyphs">Protein G</text>
<text x="3217" y="1937" textLength="260" lengthAdjust="spacingAndGlyphs">WW domain</text>
</g>

<!-- plot frames -->
<g fill="#fff" stroke="#444" stroke-width="2">
  <rect x="3405" y="999" width="230" height="217"/><rect x="3735" y="999" width="233" height="217"/><rect x="4028" y="999" width="234" height="217"/><rect x="4322" y="999" width="232" height="217"/><rect x="4615" y="999" width="232" height="217"/>
  <rect x="3405" y="1254" width="237" height="221"/><rect x="3735" y="1254" width="239" height="221"/><rect x="4028" y="1254" width="240" height="221"/><rect x="4322" y="1254" width="239" height="221"/><rect x="4615" y="1254" width="238" height="221"/>
  <rect x="3402" y="1517" width="242" height="223"/><rect x="3735" y="1517" width="245" height="223"/><rect x="4026" y="1517" width="247" height="223"/><rect x="4317" y="1517" width="247" height="223"/><rect x="4608" y="1517" width="247" height="223"/>
  <rect x="3408" y="1777" width="242" height="233"/><rect x="3735" y="1777" width="227" height="233"/><rect x="4029" y="1777" width="229" height="233"/><rect x="4328" y="1777" width="226" height="233"/><rect x="4624" y="1777" width="227" height="233"/>
</g>

<!-- scatter: row 1 -->
<g filter="url(#bl)">
  <ellipse cx="3478" cy="1122" rx="32" ry="38" fill="#9ed6b6"/>
  <ellipse cx="3565" cy="1105" rx="26" ry="80" fill="#9ed6b6" opacity="0.7"/>
  <ellipse cx="3564" cy="1110" rx="16" ry="72" fill="#3a4a8a" opacity="0.9"/>
  <ellipse cx="4490" cy="1072" rx="38" ry="42" fill="#8fcfb0"/>
  <ellipse cx="4490" cy="1072" rx="28" ry="32" fill="#4f8aa0"/>
  <ellipse cx="4704" cy="1123" rx="22" ry="30" fill="#6aaea8"/>
  <ellipse cx="4770" cy="1098" rx="48" ry="38" fill="#8fcfb0"/>
  <ellipse cx="4770" cy="1098" rx="26" ry="22" fill="#3a4a8a"/>
</g>
<g fill="#111">
  <ellipse cx="3563" cy="1066" rx="13" ry="30"/><ellipse cx="3566" cy="1160" rx="10" ry="21"/>
  <circle cx="3897" cy="1168" r="6"/>
  <ellipse cx="4193" cy="1170" rx="5" ry="24"/>
  <ellipse cx="4490" cy="1072" rx="19" ry="24" transform="rotate(30 4490 1072)"/>
  <ellipse cx="4773" cy="1097" rx="10" ry="12"/><ellipse cx="4777" cy="1147" rx="7" ry="16"/>
</g>
<circle cx="4192" cy="1142" r="3" fill="#3a4a9a"/>
<g fill="#9ed6b6">
  <circle cx="3460" cy="1160" r="3"/><circle cx="3450" cy="1140" r="3"/><circle cx="3490" cy="1100" r="3"/><circle cx="3500" cy="1088" r="3"/><circle cx="3470" cy="1178" r="3"/><circle cx="3455" cy="1192" r="3"/><circle cx="3517" cy="1085" r="3"/><circle cx="3585" cy="1045" r="3"/>
  <circle cx="4455" cy="1112" r="3"/><circle cx="4465" cy="1118" r="3"/><circle cx="4520" cy="1045" r="3"/><circle cx="4515" cy="1030" r="3"/>
  <circle cx="4690" cy="1180" r="3"/><circle cx="4680" cy="1190" r="3"/><circle cx="4800" cy="1060" r="3"/><circle cx="4812" cy="1040" r="3"/><circle cx="4820" cy="1075" r="3"/><circle cx="4735" cy="1110" r="3"/><circle cx="4745" cy="1085" r="3"/><circle cx="4800" cy="1130" r="3"/>
</g>
<!-- row 2 -->
<g filter="url(#bl)">
  <ellipse cx="3520" cy="1328" rx="85" ry="12" fill="#9ed6b6"/>
  <ellipse cx="3574" cy="1385" rx="14" ry="62" fill="#a8dcbc"/>
  <circle cx="3573" cy="1325" r="10" fill="#6aaea8"/>
  <ellipse cx="4476" cy="1326" rx="25" ry="25" fill="#6aaea8"/>
  <ellipse cx="4735" cy="1328" rx="80" ry="18" fill="#9ed6b6"/>
  <ellipse cx="4742" cy="1328" rx="62" ry="10" fill="#4f8aa8"/>
</g>
<g fill="#111">
  <ellipse cx="3441" cy="1326" rx="11" ry="8"/>
  <circle cx="3771" cy="1328" r="5"/>
  <ellipse cx="4069" cy="1328" rx="11" ry="5"/>
  <ellipse cx="4476" cy="1326" rx="14" ry="11"/>
</g>
<ellipse cx="4668" cy="1328" rx="16" ry="6" fill="#3a4a9a"/>
<g fill="#7ac0a8">
  <circle cx="3873" cy="1333" r="3"/><circle cx="3907" cy="1316" r="3"/><circle cx="3906" cy="1345" r="3"/>
  <circle cx="4760" cy="1355" r="3"/><circle cx="4770" cy="1362" r="3"/><circle cx="4780" cy="1372" r="3"/><circle cx="4775" cy="1395" r="3"/><circle cx="4740" cy="1350" r="3"/>
</g>
<!-- row 3 -->
<g filter="url(#bl)">
  <path d="M3449,1577 Q3545,1555 3570,1600 Q3578,1630 3562,1660" fill="none" stroke="#9ed6b6" stroke-width="30"/>
  <ellipse cx="3488" cy="1680" rx="18" ry="22" fill="#8fcfb0"/>
  <circle cx="3560" cy="1598" r="12" fill="#5a8ab0"/>
  <ellipse cx="4484" cy="1600" rx="30" ry="42" fill="#7abfb0"/>
  <ellipse cx="4730" cy="1598" rx="72" ry="26" fill="#a8dcbc"/>
</g>
<path d="M3449,1577 Q3500,1563 3537,1565" fill="none" stroke="#4a6aa0" stroke-width="14" filter="url(#bl2)"/>
<path d="M4655,1582 H4760" fill="none" stroke="#4a5aa0" stroke-width="18" filter="url(#bl2)"/>
<g fill="#111">
  <circle cx="3449" cy="1577" r="15"/><ellipse cx="3537" cy="1565" rx="16" ry="12"/>
  <ellipse cx="3773" cy="1582" rx="4" ry="5"/>
  <ellipse cx="4062" cy="1582" rx="8" ry="10"/>
  <ellipse cx="4484" cy="1600" rx="18" ry="30"/>
  <ellipse cx="4655" cy="1582" rx="13" ry="10"/>
</g>
<g fill="#9ed6b6">
  <circle cx="4720" cy="1650" r="3"/><circle cx="4740" cy="1680" r="3"/><circle cx="4700" cy="1700" r="3"/><circle cx="4760" cy="1640" r="3"/><circle cx="4710" cy="1670" r="3"/><circle cx="4750" cy="1660" r="3"/><circle cx="4690" cy="1690" r="3"/><circle cx="4730" cy="1712" r="3"/><circle cx="4695" cy="1718" r="3"/><circle cx="4765" cy="1625" r="3"/>
</g>
<!-- row 4 -->
<g filter="url(#bl)">
  <ellipse cx="3520" cy="1845" rx="75" ry="18" fill="#a8dcbc"/>
  <path d="M3565,1850 Q3560,1920 3555,1975" fill="none" stroke="#a8dcbc" stroke-width="20"/>
  <ellipse cx="4476" cy="1847" rx="28" ry="28" fill="#6aaea8"/>
  <ellipse cx="4735" cy="1850" rx="70" ry="22" fill="#9ed6b6"/>
  <ellipse cx="4730" cy="1850" rx="50" ry="9" fill="#4a5a9a"/>
</g>
<g fill="#111">
  <circle cx="3454" cy="1844" r="15"/>
  <circle cx="3770" cy="1852" r="7"/><circle cx="3800" cy="1859" r="3"/>
  <circle cx="4065" cy="1852" r="9"/>
  <ellipse cx="4476" cy="1847" rx="18" ry="20"/>
  <ellipse cx="4674" cy="1851" rx="16" ry="7"/>
</g>
<circle cx="3580" cy="1840" r="14" fill="#2a3a7a"/>
<g fill="#9ed6b6"><circle cx="4745" cy="1890" r="3"/><circle cx="4750" cy="1902" r="3"/><circle cx="4740" cy="1880" r="3"/></g>

<!-- tick labels -->
<g class="sa" font-size="20" fill="#333">
  <g text-anchor="end">
    <text><tspan x="3399" y="1053">1</tspan><tspan x="3399" y="1109">0</tspan><tspan x="3399" y="1163">−1</tspan><tspan x="3399" y="1217">−2</tspan></text>
    <text><tspan x="3729" y="1053">1</tspan><tspan x="3729" y="1109">0</tspan><tspan x="3729" y="1163">−1</tspan><tspan x="3729" y="1217">−2</tspan></text>
    <text><tspan x="4022" y="1053">1</tspan><tspan x="4022" y="1109">0</tspan><tspan x="4022" y="1163">−1</tspan><tspan x="4022" y="1217">−2</tspan></text>
    <text><tspan x="4316" y="1053">1</tspan><tspan x="4316" y="1109">0</tspan><tspan x="4316" y="1163">−1</tspan><tspan x="4316" y="1217">−2</tspan></text>
    <text><tspan x="4609" y="1053">1</tspan><tspan x="4609" y="1109">0</tspan><tspan x="4609" y="1163">−1</tspan><tspan x="4609" y="1217">−2</tspan></text>

    <text><tspan x="3399" y="1264">10</tspan><tspan x="3399" y="1300">5</tspan><tspan x="3399" y="1335">0</tspan><tspan x="3399" y="1370">−5</tspan><tspan x="3399" y="1405">−10</tspan><tspan x="3399" y="1440">−15</tspan><tspan x="3399" y="1474">−20</tspan></text>
    <text><tspan x="3729" y="1264">10</tspan><tspan x="3729" y="1300">5</tspan><tspan x="3729" y="1335">0</tspan><tspan x="3729" y="1370">−5</tspan><tspan x="3729" y="1405">−10</tspan><tspan x="3729" y="1440">−15</tspan><tspan x="3729" y="1474">−20</tspan></text>
    <text><tspan x="4022" y="1264">10</tspan><tspan x="4022" y="1300">5</tspan><tspan x="4022" y="1335">0</tspan><tspan x="4022" y="1370">−5</tspan><tspan x="4022" y="1405">−10</tspan><tspan x="4022" y="1440">−15</tspan><tspan x="4022" y="1474">−20</tspan></text>
    <text><tspan x="4316" y="1264">10</tspan><tspan x="4316" y="1300">5</tspan><tspan x="4316" y="1335">0</tspan><tspan x="4316" y="1370">−5</tspan><tspan x="4316" y="1405">−10</tspan><tspan x="4316" y="1440">−15</tspan><tspan x="4316" y="1474">−20</tspan></text>
    <text><tspan x="4609" y="1264">10</tspan><tspan x="4609" y="1300">5</tspan><tspan x="4609" y="1335">0</tspan><tspan x="4609" y="1370">−5</tspan><tspan x="4609" y="1405">−10</tspan><tspan x="4609" y="1440">−15</tspan><tspan x="4609" y="1474">−20</tspan></text>

    <text><tspan x="3396" y="1540">2</tspan><tspan x="3396" y="1587">0</tspan><tspan x="3396" y="1635">−2</tspan><tspan x="3396" y="1682">−4</tspan><tspan x="3396" y="1730">−6</tspan></text>
    <text><tspan x="3729" y="1540">2</tspan><tspan x="3729" y="1587">0</tspan><tspan x="3729" y="1635">−2</tspan><tspan x="3729" y="1682">−4</tspan><tspan x="3729" y="1730">−6</tspan></text>
    <text><tspan x="4020" y="1540">2</tspan><tspan x="4020" y="1587">0</tspan><tspan x="4020" y="1635">−2</tspan><tspan x="4020" y="1682">−4</tspan><tspan x="4020" y="1730">−6</tspan></text>
    <text><tspan x="4311" y="1540">2</tspan><tspan x="4311" y="1587">0</tspan><tspan x="4311" y="1635">−2</tspan><tspan x="4311" y="1682">−4</tspan><tspan x="4311" y="1730">−6</tspan></text>
    <text><tspan x="4602" y="1540">2</tspan><tspan x="4602" y="1587">0</tspan><tspan x="4602" y="1635">−2</tspan><tspan x="4602" y="1682">−4</tspan><tspan x="4602" y="1730">−6</tspan></text>

    <text><tspan x="3402" y="1816">2.5</tspan><tspan x="3402" y="1851">0.0</tspan><tspan x="3402" y="1886">−2.5</tspan><tspan x="3402" y="1922">−5.0</tspan><tspan x="3402" y="1957">−7.5</tspan><tspan x="3402" y="1993">−10.0</tspan></text>
    <text><tspan x="3729" y="1816">2.5</tspan><tspan x="3729" y="1851">0.0</tspan><tspan x="3729" y="1886">−2.5</tspan><tspan x="3729" y="1922">−5.0</tspan><tspan x="3729" y="1957">−7.5</tspan><tspan x="3729" y="1993">−10.0</tspan></text>
    <text><tspan x="4023" y="1816">2.5</tspan><tspan x="4023" y="1851">0.0</tspan><tspan x="4023" y="1886">−2.5</tspan><tspan x="4023" y="1922">−5.0</tspan><tspan x="4023" y="1957">−7.5</tspan><tspan x="4023" y="1993">−10.0</tspan></text>
    <text><tspan x="4322" y="1816">2.5</tspan><tspan x="4322" y="1851">0.0</tspan><tspan x="4322" y="1886">−2.5</tspan><tspan x="4322" y="1922">−5.0</tspan><tspan x="4322" y="1957">−7.5</tspan><tspan x="4322" y="1993">−10.0</tspan></text>
    <text><tspan x="4618" y="1816">2.5</tspan><tspan x="4618" y="1851">0.0</tspan><tspan x="4618" y="1886">−2.5</tspan><tspan x="4618" y="1922">−5.0</tspan><tspan x="4618" y="1957">−7.5</tspan><tspan x="4618" y="1993">−10.0</tspan></text>
  </g>
  <g text-anchor="middle">
    <text y="1242"><tspan x="3408">−6</tspan><tspan x="3457">−4</tspan><tspan x="3509">−2</tspan><tspan x="3559">0</tspan><tspan x="3610">2</tspan></text>
    <text y="1242"><tspan x="3738">−6</tspan><tspan x="3787">−4</tspan><tspan x="3839">−2</tspan><tspan x="3889">0</tspan><tspan x="3940">2</tspan></text>
    <text y="1242"><tspan x="4031">−6</tspan><tspan x="4080">−4</tspan><tspan x="4132">−2</tspan><tspan x="4182">0</tspan><tspan x="4233">2</tspan></text>
    <text y="1242"><tspan x="4325">−6</tspan><tspan x="4374">−4</tspan><tspan x="4426">−2</tspan><tspan x="4476">0</tspan><tspan x="4527">2</tspan></text>
    <text y="1242"><tspan x="4618">−6</tspan><tspan x="4667">−4</tspan><tspan x="4719">−2</tspan><tspan x="4769">0</tspan><tspan x="4820">2</tspan></text>

    <text y="1499"><tspan x="3455">0</tspan><tspan x="3537">2</tspan><tspan x="3616">4</tspan></text>
    <text y="1499"><tspan x="3785">0</tspan><tspan x="3867">2</tspan><tspan x="3946">4</tspan></text>
    <text y="1499"><tspan x="4078">0</tspan><tspan x="4160">2</tspan><tspan x="4239">4</tspan></text>
    <text y="1499"><tspan x="4372">0</tspan><tspan x="4454">2</tspan><tspan x="4533">4</tspan></text>
    <text y="1499"><tspan x="4665">0</tspan><tspan x="4747">2</tspan><tspan x="4826">4</tspan></text>

    <text y="1764"><tspan x="3433">−1</tspan><tspan x="3484">0</tspan><tspan x="3536">1</tspan><tspan x="3586">2</tspan><tspan x="3637">3</tspan></text>
    <text y="1764"><tspan x="3766">−1</tspan><tspan x="3817">0</tspan><tspan x="3869">1</tspan><tspan x="3919">2</tspan><tspan x="3970">3</tspan></text>
    <text y="1764"><tspan x="4057">−1</tspan><tspan x="4108">0</tspan><tspan x="4160">1</tspan><tspan x="4210">2</tspan><tspan x="4261">3</tspan></text>
    <text y="1764"><tspan x="4348">−1</tspan><tspan x="4399">0</tspan><tspan x="4451">1</tspan><tspan x="4501">2</tspan><tspan x="4552">3</tspan></text>
    <text y="1764"><tspan x="4639">−1</tspan><tspan x="4690">0</tspan><tspan x="4742">1</tspan><tspan x="4792">2</tspan><tspan x="4843">3</tspan></text>

    <text y="2034"><tspan x="3429">−1</tspan><tspan x="3488">0</tspan><tspan x="3545">1</tspan><tspan x="3604">2</tspan></text>
    <text y="2034"><tspan x="3756">−1</tspan><tspan x="3815">0</tspan><tspan x="3872">1</tspan><tspan x="3931">2</tspan></text>
    <text y="2034"><tspan x="4050">−1</tspan><tspan x="4109">0</tspan><tspan x="4166">1</tspan><tspan x="4225">2</tspan></text>
    <text y="2034"><tspan x="4349">−1</tspan><tspan x="4408">0</tspan><tspan x="4465">1</tspan><tspan x="4524">2</tspan></text>
    <text y="2034"><tspan x="4645">−1</tspan><tspan x="4704">0</tspan><tspan x="4761">1</tspan><tspan x="4820">2</tspan></text>
  </g>
</g>

<!-- Benchmark -->
<rect x="3058" y="2105" width="1862" height="628" rx="35" fill="#fff"/>
<path d="M3058,2225 V2140 Q3058,2105 3093,2105 H4885 Q4920,2105 4920,2140 V2225 Z" fill="#deebf6"/>
<rect x="3058" y="2105" width="1862" height="628" rx="35" fill="none" stroke="#2a3aa8" stroke-width="5"/>
<text class="b" x="3091" y="2185" font-size="64" textLength="1173" lengthAdjust="spacingAndGlyphs">Benchmark on Fast Folding Proteins</text>
<text class="sa" x="4267" y="2158" font-size="34" fill="#888">[3]</text>
<rect x="3075" y="2419" width="1803" height="75" fill="#e6eef8"/>
<rect x="3814" y="2675" width="1086" height="36" fill="#d6d6d6"/>
<line x1="3060" y1="2298" x2="4900" y2="2298" stroke="#111" stroke-width="3"/>
<line x1="3060" y1="2508" x2="4900" y2="2508" stroke="#111" stroke-width="4"/>
<g font-size="30" text-anchor="middle">
  <text y="2276"><tspan x="3213">Methods</tspan><tspan x="3476">Val-Clash(↑)</tspan><tspan x="3700">Val-Bond(↑)</tspan><tspan x="3914">JS-PwD(↓)</tspan><tspan x="4113">JS-TIC(↓)</tspan><tspan x="4302">JS-Rg (↓)</tspan><tspan x="4510">MAE-TM(↓)</tspan><tspan x="4763">MAE-RMSD(↓)</tspan></text>
  <text y="2337"><tspan x="3213">MSA subsampling</tspan><tspan x="3476" font-weight="bold">0.999</tspan><tspan x="3700" font-weight="bold">0.997</tspan><tspan x="3914">0.634</tspan><tspan x="4113">0.624</tspan><tspan x="4302">0.656</tspan><tspan x="4510">0.596</tspan><tspan x="4763">0.713</tspan></text>
  <text y="2375"><tspan x="3213">EigenFold</tspan><tspan x="3476">0.812</tspan><tspan x="3700">0.874</tspan><tspan x="3914">0.530</tspan><tspan x="4113">0.497</tspan><tspan x="4302">0.666</tspan><tspan x="4510">0.448</tspan><tspan x="4763">0.607</tspan></text>
  <text y="2413"><tspan x="3213">idpGAN</tspan><tspan x="3476">0.960</tspan><tspan x="3700">0.032</tspan><tspan x="3914">0.480</tspan><tspan x="4113">0.517</tspan><tspan x="4302">0.661</tspan><tspan x="4510">0.189</tspan><tspan x="4763">0.592</tspan></text>
  <text y="2450"><tspan x="3476">0.963</tspan><tspan x="3700">0.992</tspan><tspan x="3914">0.375</tspan><tspan x="4113" font-weight="bold">0.397</tspan><tspan x="4302">0.448</tspan><tspan x="4510">0.150</tspan><tspan x="4763">0.209</tspan></text>
  <text y="2487"><tspan x="3476">0.977</tspan><tspan x="3700">0.982</tspan><tspan x="3914" font-weight="bold">0.348</tspan><tspan x="4113">0.400</tspan><tspan x="4302" font-weight="bold">0.365</tspan><tspan x="4510" font-weight="bold">0.133</tspan><tspan x="4763" font-weight="bold">0.184</tspan></text>
  <text y="2549"><tspan x="3476">1.000</tspan><tspan x="3700">1.000</tspan><tspan x="3914">0.458</tspan><tspan x="4113">0.491</tspan><tspan x="4302">0.445</tspan><tspan x="4510">0.227</tspan><tspan x="4763">0.379</tspan></text>
  <text y="2586"><tspan x="3476">1.000</tspan><tspan x="3700">1.000</tspan><tspan x="3914">0.317</tspan><tspan x="4113">0.394</tspan><tspan x="4302">0.303</tspan><tspan x="4510">0.206</tspan><tspan x="4763">0.339</tspan></text>
  <text y="2622"><tspan x="3476">1.000</tspan><tspan x="3700">1.000</tspan><tspan x="3914">0.236</tspan><tspan x="4113">0.331</tspan><tspan x="4302">0.227</tspan><tspan x="4510">0.144</tspan><tspan x="4763">0.243</tspan></text>
  <text y="2660"><tspan x="3476">0.997</tspan><tspan x="3700">1.000</tspan><tspan x="3914">0.130</tspan><tspan x="4113">0.155</tspan><tspan x="4302">0.126</tspan><tspan x="4510">0.063</tspan><tspan x="4763">0.102</tspan></text>
  <text y="2697"><tspan x="3476">0.997</tspan><tspan x="3700">1.000</tspan><tspan x="3914">0.000</tspan><tspan x="4113">0.000</tspan><tspan x="4302">0.000</tspan><tspan x="4510">0.000</tspan><tspan x="4763">0.000</tspan></text>
  <text x="3212" y="2450" fill="#333">S<tspan font-size="22">TR</tspan>2S<tspan font-size="22">TR</tspan>(PF)</text>
  <text x="3212" y="2487" fill="#333">S<tspan font-size="22">TR</tspan>2S<tspan font-size="22">TR</tspan>(SDE)</text>
  <g fill="#b0803e">
    <text x="3212" y="2549">Reference 100ns</text>
    <text x="3212" y="2586">Reference 1us</text>
    <text x="3212" y="2622">Reference 10us</text>
    <text x="3212" y="2660">Reference 100us</text>
    <text x="3212" y="2697">Reference Full</text>
  </g>
</g>
</svg>
</body></html>
